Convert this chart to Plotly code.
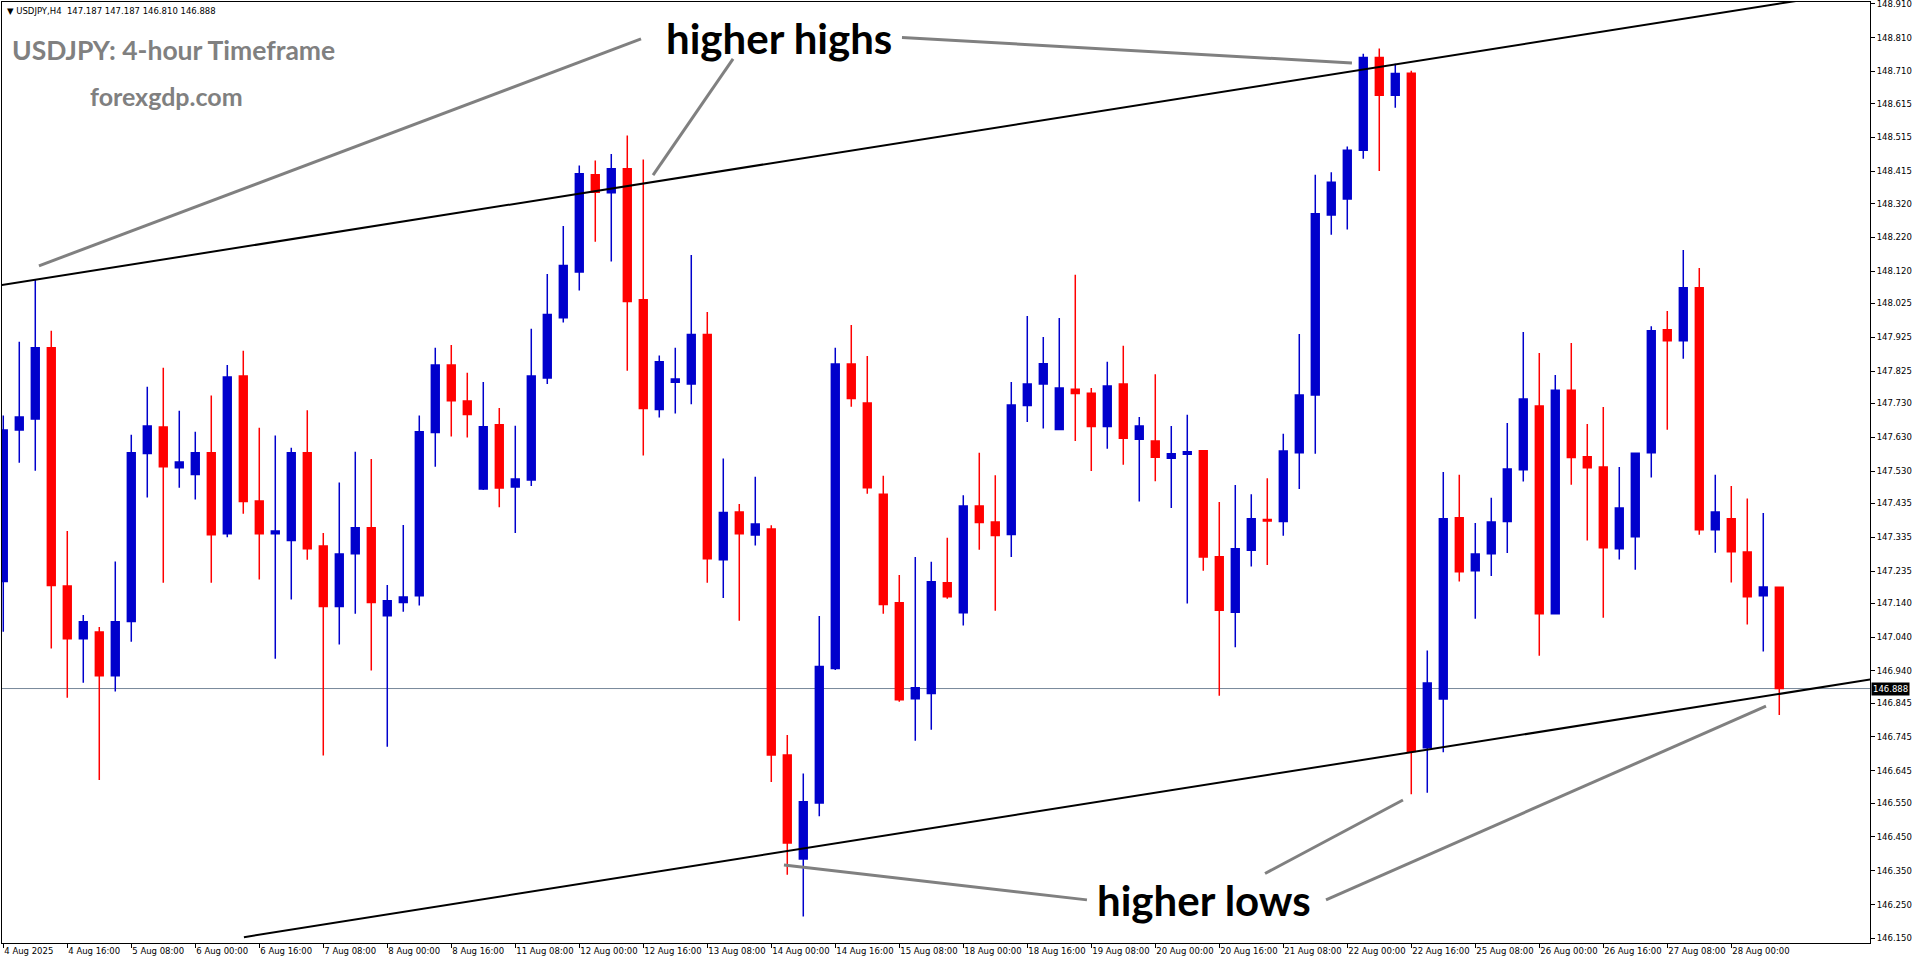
import plotly.graph_objects as go

# ---------------- data (USDJPY H4) ----------------
bar_index = list(range(112))

open_ = [147.204, 147.651, 147.684, 147.894, 147.191, 147.035, 147.055, 146.926, 147.086, 147.582,
         147.660, 147.540, 147.520, 147.584, 147.345, 147.811, 147.442, 147.345, 147.325, 147.584,
         147.309, 147.130, 147.286, 147.363, 147.103, 147.142, 147.162, 147.644, 147.843, 147.737,
         147.477, 147.667, 147.483, 147.504, 147.805, 147.983, 148.118, 148.405, 148.352, 148.423,
         148.036, 147.712, 147.792, 147.787, 147.933, 147.268, 147.409, 147.341, 147.359, 146.692,
         146.385, 146.550, 146.947, 147.846, 147.731, 147.462, 147.141, 146.858, 146.873, 147.200,
         147.112, 147.427, 147.380, 147.343, 147.724, 147.787, 147.653, 147.772, 147.760, 147.662,
         147.787, 147.624, 147.619, 147.568, 147.580, 147.590, 147.277, 147.113, 147.296, 147.387,
         147.381, 147.584, 147.755, 148.286, 148.333, 148.477, 148.751, 148.640, 148.705, 146.713,
         146.857, 147.392, 147.236, 147.286, 147.381, 147.534, 147.722, 147.109, 147.769, 147.572,
         147.542, 147.301, 147.336, 147.584, 147.947, 147.915, 148.071, 147.357, 147.389, 147.291,
         147.162, 147.187]
high = [147.694, 147.912, 148.094, 147.944, 147.353, 147.105, 147.070, 147.263, 147.637, 147.779,
        147.835, 147.708, 147.646, 147.753, 147.843, 147.885, 147.658, 147.635, 147.599, 147.710,
        147.347, 147.496, 147.587, 147.566, 147.194, 147.371, 147.694, 147.894, 147.902, 147.820,
        147.793, 147.716, 147.664, 147.950, 148.112, 148.254, 148.432, 148.447, 148.466, 148.521,
        148.450, 147.871, 147.894, 148.168, 148.000, 147.567, 147.433, 147.513, 147.370, 146.751,
        146.637, 147.102, 147.894, 147.961, 147.870, 147.516, 147.223, 147.276, 147.262, 147.333,
        147.459, 147.584, 147.518, 147.793, 147.988, 147.926, 147.982, 148.110, 147.775, 147.853,
        147.900, 147.690, 147.816, 147.663, 147.696, 147.591, 147.439, 147.489, 147.462, 147.509,
        147.640, 147.935, 148.405, 148.412, 148.488, 148.762, 148.778, 148.733, 148.712, 147.000,
        147.527, 147.519, 147.377, 147.451, 147.672, 147.941, 147.879, 147.814, 147.908, 147.669,
        147.719, 147.542, 147.583, 147.958, 148.003, 148.183, 148.130, 147.519, 147.486, 147.449,
        147.406, 147.187]
low = [147.056, 147.555, 147.531, 147.006, 146.861, 146.905, 146.618, 146.879, 147.026, 147.452,
       147.200, 147.481, 147.446, 147.200, 147.335, 147.404, 147.210, 146.976, 147.151, 147.268,
       146.690, 147.018, 147.109, 146.941, 146.716, 147.115, 147.133, 147.543, 147.632, 147.629,
       147.474, 147.423, 147.347, 147.486, 147.787, 147.969, 148.063, 148.207, 148.149, 147.826,
       147.576, 147.688, 147.700, 147.727, 147.200, 147.155, 147.088, 147.310, 146.612, 146.338,
       146.215, 146.511, 146.943, 147.720, 147.463, 147.109, 146.849, 146.734, 146.766, 147.153,
       147.074, 147.298, 147.118, 147.276, 147.675, 147.656, 147.653, 147.619, 147.530, 147.596,
       147.549, 147.440, 147.500, 147.421, 147.139, 147.236, 146.867, 147.010, 147.248, 147.253,
       147.339, 147.477, 147.581, 148.228, 148.243, 148.452, 148.416, 148.603, 146.576, 146.580,
       146.700, 147.204, 147.094, 147.220, 147.288, 147.499, 146.985, 147.109, 147.490, 147.325,
       147.097, 147.269, 147.239, 147.511, 147.652, 147.862, 147.342, 147.289, 147.201, 147.077,
       146.997, 146.810]
close = [147.651, 147.690, 147.894, 147.192, 147.035, 147.085, 146.926, 147.085, 147.584, 147.663,
         147.543, 147.557, 147.584, 147.342, 147.808, 147.440, 147.345, 147.353, 147.584, 147.301,
         147.130, 147.285, 147.363, 147.142, 147.147, 147.158, 147.646, 147.843, 147.738, 147.697,
         147.661, 147.480, 147.507, 147.811, 147.992, 148.137, 148.408, 148.353, 148.423, 148.031,
         147.715, 147.853, 147.802, 147.933, 147.271, 147.408, 147.345, 147.374, 146.692, 146.432,
         146.554, 146.953, 147.846, 147.744, 147.481, 147.136, 146.855, 146.890, 147.203, 147.159,
         147.427, 147.378, 147.340, 147.725, 147.787, 147.847, 147.775, 147.759, 147.662, 147.781,
         147.627, 147.663, 147.571, 147.581, 147.587, 147.276, 147.119, 147.301, 147.389, 147.383,
         147.589, 147.755, 148.290, 148.383, 148.477, 148.751, 148.640, 148.704, 146.702, 146.904,
         147.389, 147.233, 147.285, 147.380, 147.536, 147.743, 147.109, 147.769, 147.570, 147.540,
         147.304, 147.421, 147.583, 147.944, 147.915, 148.071, 147.357, 147.409, 147.292, 147.159,
         147.188, 146.888]

x_tick_idx = list(range(0, 112, 4))
x_tick_labels = ["4 Aug 2025", "4 Aug 16:00", "5 Aug 08:00", "6 Aug 00:00", "6 Aug 16:00",
                 "7 Aug 08:00", "8 Aug 00:00", "8 Aug 16:00", "11 Aug 08:00", "12 Aug 00:00",
                 "12 Aug 16:00", "13 Aug 08:00", "14 Aug 00:00", "14 Aug 16:00", "15 Aug 08:00",
                 "18 Aug 00:00", "18 Aug 16:00", "19 Aug 08:00", "20 Aug 00:00", "20 Aug 16:00",
                 "21 Aug 08:00", "22 Aug 00:00", "22 Aug 16:00", "25 Aug 08:00", "26 Aug 00:00",
                 "26 Aug 16:00", "27 Aug 08:00", "28 Aug 00:00"]

y_tick_vals = [148.910, 148.810, 148.710, 148.615, 148.515, 148.415, 148.320, 148.220, 148.120,
               148.025, 147.925, 147.825, 147.730, 147.630, 147.530, 147.435, 147.335, 147.235,
               147.140, 147.040, 146.940, 146.845, 146.745, 146.645, 146.550, 146.450, 146.350,
               146.250, 146.150]

last_price = close[-1]

# channel trendlines (bar index, price)
upper_line_x = [-1, 117]
upper_line_y = [148.0725, 148.955]
lower_line_x = [15.04, 117]
lower_line_y = [146.154, 146.917]

# grey pointer segments (start -> end) in (bar index, price)
pointer_x0 = [39.86, 45.61, 56.17, 67.73, 78.86, 82.67]
pointer_y0 = [148.806, 148.747, 148.810, 146.264, 146.342, 146.264]
pointer_x1 = [2.23, 40.61, 84.29, 48.79, 87.48, 110.17]
pointer_y1 = [148.136, 148.404, 148.735, 146.367, 146.559, 146.836]

labels_text = ["higher highs", "higher lows"]
labels_x = [48.48, 75.04]
labels_y = [148.809, 146.264]

# ---------------- figure ----------------
BLUE = "#0000CC"
RED = "#FF0000"
TICKFONT = dict(family="DejaVu Sans", size=8.5, color="black")

fig = go.Figure()

fig.add_trace(go.Candlestick(
    x=bar_index, open=open_, high=high, low=low, close=close,
    increasing=dict(line=dict(color=BLUE, width=1.5), fillcolor=BLUE),
    decreasing=dict(line=dict(color=RED, width=1.5), fillcolor=RED),
    whiskerwidth=0, showlegend=False, hoverinfo="skip",
))

fig.add_trace(go.Scatter(x=upper_line_x, y=upper_line_y, mode="lines",
                         line=dict(color="black", width=2), showlegend=False, hoverinfo="skip"))
fig.add_trace(go.Scatter(x=lower_line_x, y=lower_line_y, mode="lines",
                         line=dict(color="black", width=2), showlegend=False, hoverinfo="skip"))

px, py = [], []
for a, b, c, d in zip(pointer_x0, pointer_y0, pointer_x1, pointer_y1):
    px += [a, c, None]
    py += [b, d, None]
fig.add_trace(go.Scatter(x=px, y=py, mode="lines",
                         line=dict(color="#808080", width=3), showlegend=False, hoverinfo="skip"))

# bid line
fig.add_shape(type="line", xref="paper", x0=0, x1=1, yref="y", y0=last_price, y1=last_price,
              line=dict(color="#778899", width=1), layer="below")

annotations = []
for t, x, y in zip(labels_text, labels_x, labels_y):
    annotations.append(dict(x=x, y=y, xref="x", yref="y", text="<b>" + t + "</b>",
                            showarrow=False, xanchor="center", yanchor="middle",
                            font=dict(family="Lato", size=42, color="black")))

annotations.append(dict(xref="paper", yref="paper", x=0, y=1, xanchor="left", yanchor="top",
                        xshift=3, yshift=-2, showarrow=False,
                        text="\u25BC USDJPY,H4\u00a0\u00a0%.3f %.3f %.3f %.3f" % (open_[-1], high[-1], low[-1], close[-1]),
                        font=dict(family="DejaVu Sans", size=8.5, color="black")))
annotations.append(dict(xref="paper", yref="paper", x=0, y=1, xanchor="left", yanchor="middle",
                        xshift=8, yshift=-48, showarrow=False,
                        text="<b>USDJPY: 4-hour Timeframe</b>",
                        font=dict(family="Lato", size=26.5, color="#808080")))
annotations.append(dict(xref="paper", yref="paper", x=0, y=1, xanchor="left", yanchor="middle",
                        xshift=86, yshift=-94, showarrow=False,
                        text="<b>forexgdp.com</b>",
                        font=dict(family="Lato", size=25, color="#808080")))
annotations.append(dict(xref="paper", yref="y", x=1, y=last_price, xanchor="left", yanchor="middle",
                        xshift=1, showarrow=False, text="%.3f" % last_price, bgcolor="black",
                        borderpad=1, font=dict(family="DejaVu Sans", size=8.5, color="white")))

fig.update_layout(
    width=1916, height=964,
    margin=dict(l=2, r=46, t=2, b=21, autoexpand=False),
    paper_bgcolor="white", plot_bgcolor="white",
    showlegend=False,
    annotations=annotations,
    xaxis=dict(range=[-0.08, 116.67], rangeslider=dict(visible=False),
               tickmode="array", tickvals=x_tick_idx, ticktext=x_tick_labels,
               tickangle=0, automargin=False,
               ticks="outside", ticklen=4, tickcolor="black", ticklabelposition="outside right",
               tickfont=TICKFONT, showgrid=False, zeroline=False,
               showline=True, linecolor="black", linewidth=1, mirror=True),
    yaxis=dict(range=[146.1367, 148.915], side="right", automargin=False,
               tickmode="array", tickvals=y_tick_vals, tickformat=".3f",
               ticklabeloverflow="allow",
               ticks="outside", ticklen=4, tickcolor="black", tickfont=TICKFONT,
               showgrid=False, zeroline=False,
               showline=True, linecolor="black", linewidth=1, mirror=True),
)

fig.write_html("out.html", config={"displayModeBar": False},
               post_script="document.body.style.margin='0';document.body.style.overflow='hidden';")
